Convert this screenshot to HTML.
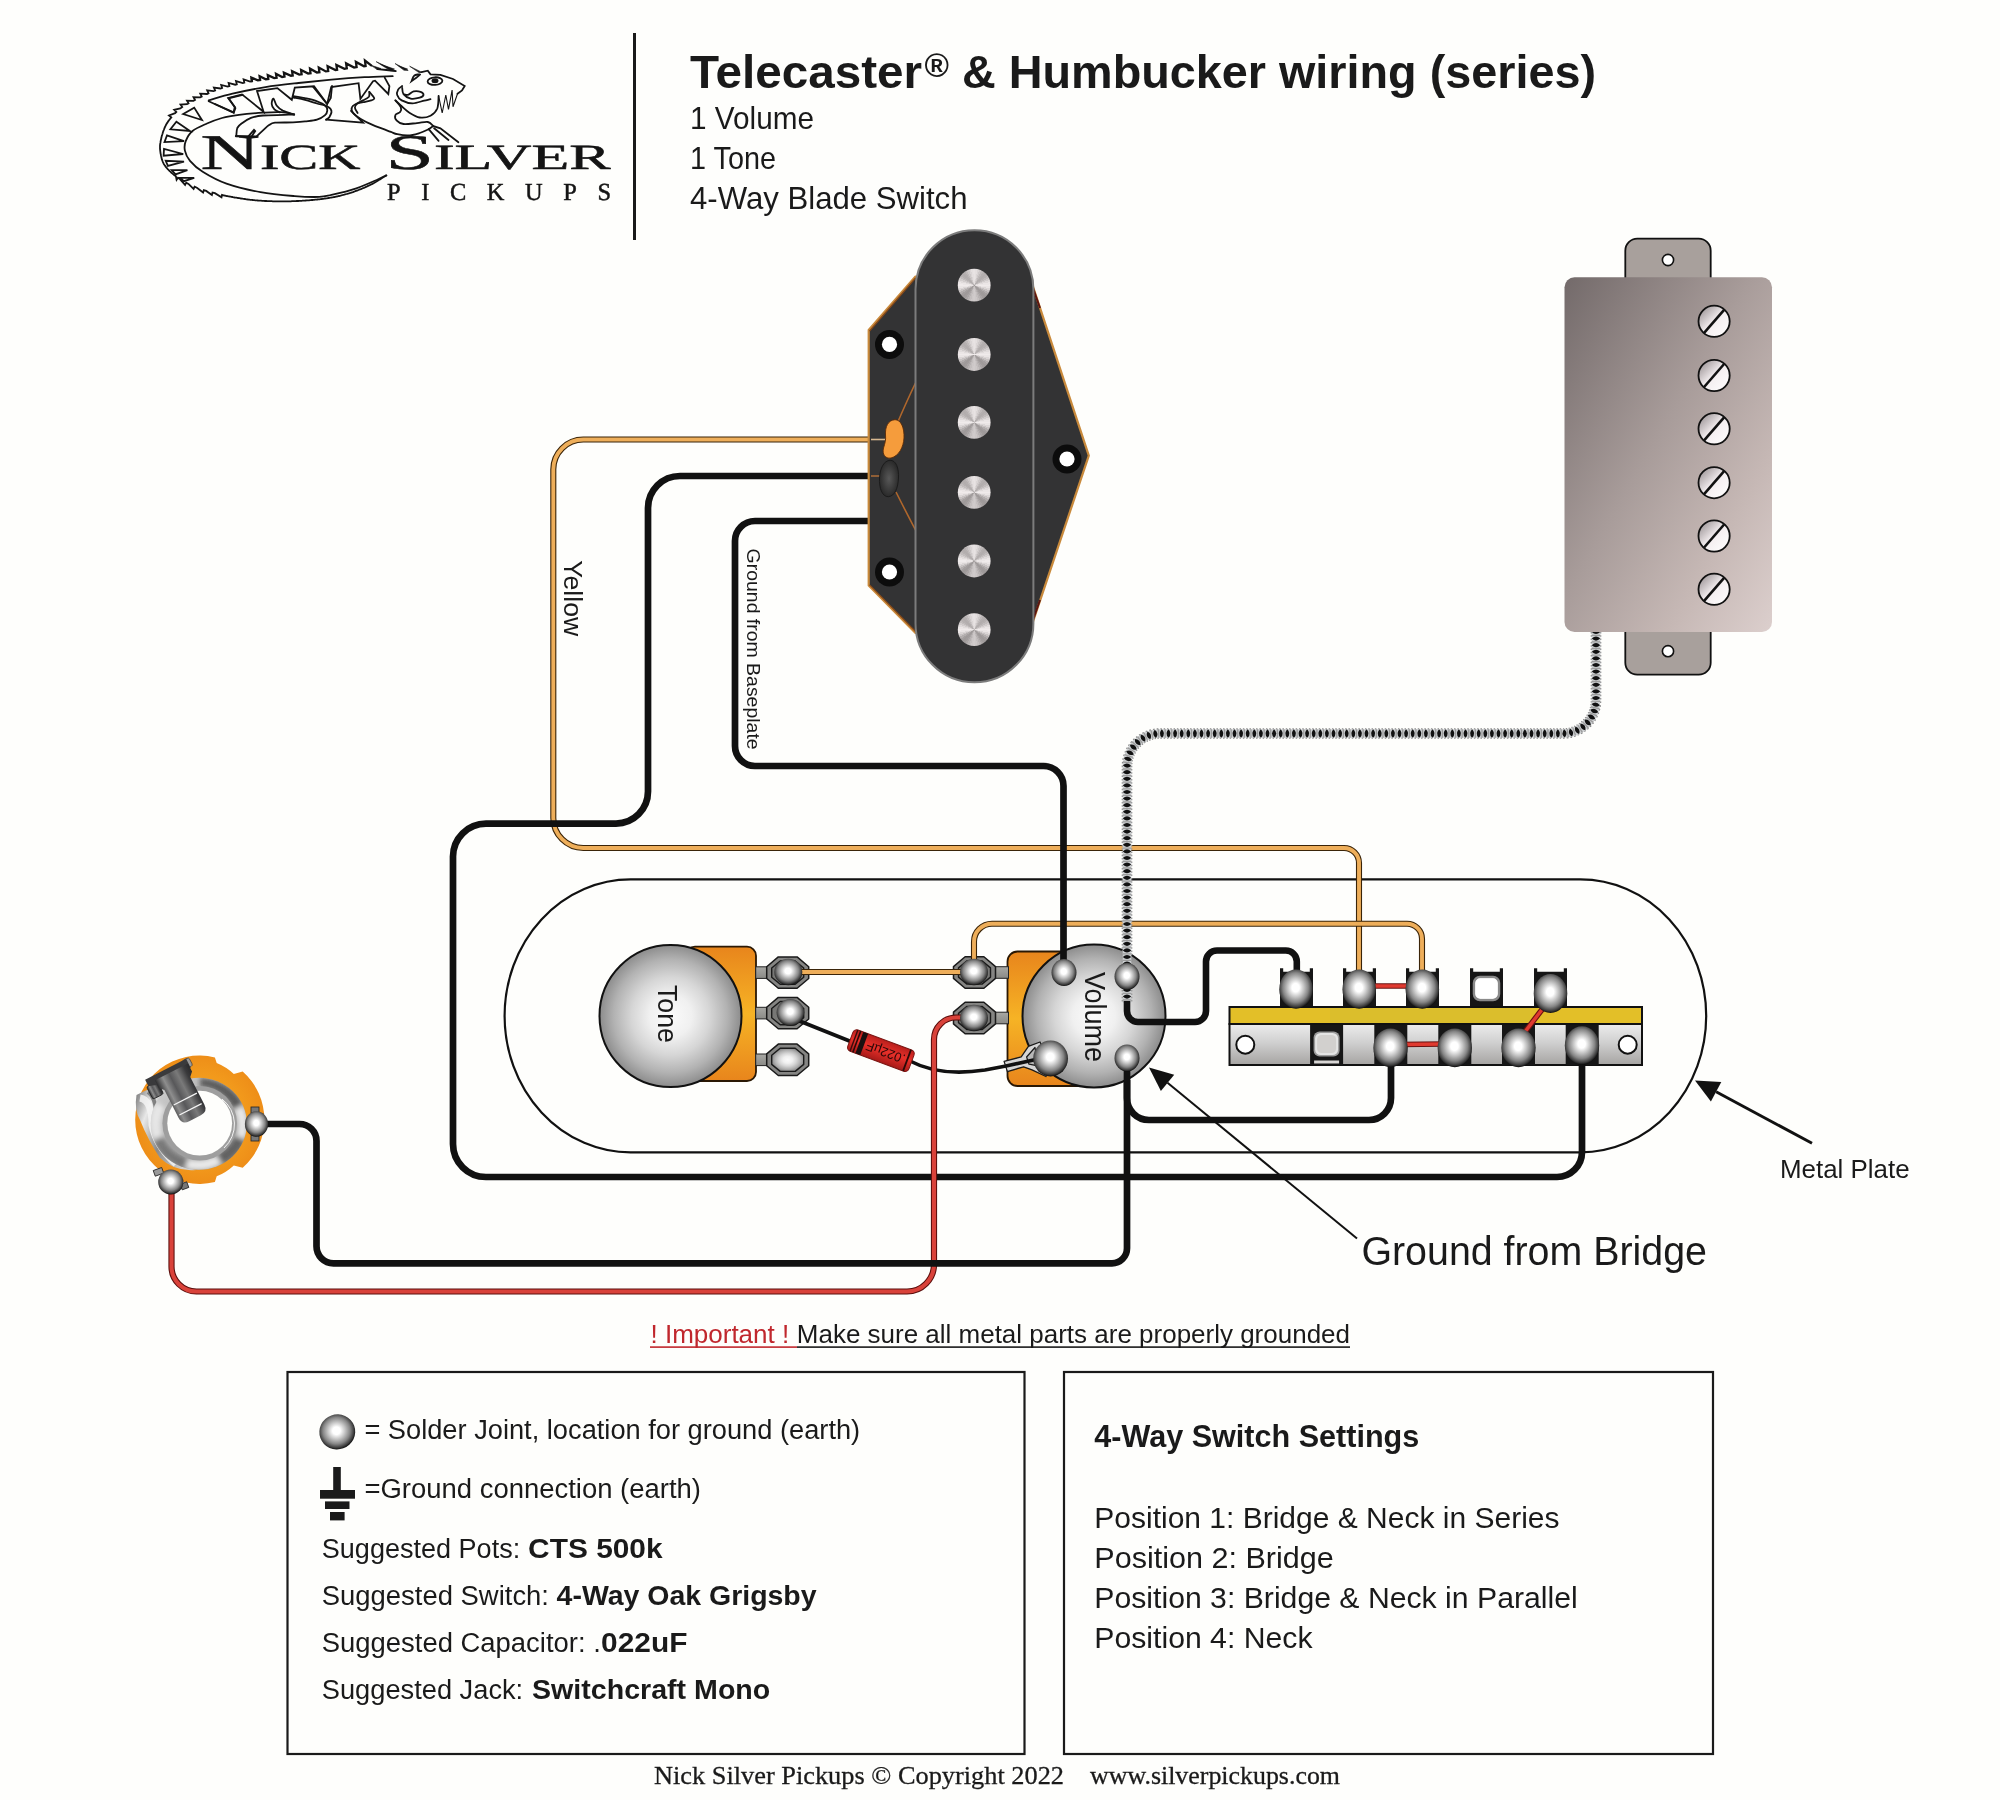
<!DOCTYPE html>
<html lang="en"><head><meta charset="utf-8"><title>Telecaster &amp; Humbucker wiring (series)</title>
<style>
html,body{margin:0;padding:0;background:#fefefc;}
body{width:2000px;height:1800px;overflow:hidden;}
svg{display:block;will-change:transform;}
text{font-family:"Liberation Sans",sans-serif;fill:#1a1a1a;}
.serif{font-family:"Liberation Serif",serif;}
.ft{stroke:#1a1a1a;stroke-width:.3px;}
.b{font-weight:bold;}
</style></head><body>
<svg width="2000" height="1800" viewBox="0 0 2000 1800">
<rect width="2000" height="1800" fill="#fefefc"/>
<!-- defs.svg -->
<defs>
<radialGradient id="blob" cx="0.49" cy="0.46" r="0.54">
<stop offset="0" stop-color="#ffffff"/><stop offset="0.2" stop-color="#ffffff"/><stop offset="0.45" stop-color="#c4c4c4"/><stop offset="0.7" stop-color="#868686"/><stop offset="0.9" stop-color="#3c3c3c"/><stop offset="1" stop-color="#0c0c0c"/>
</radialGradient>
<radialGradient id="knob" cx="0.5" cy="0.5" r="0.5">
<stop offset="0" stop-color="#fbfbfb"/><stop offset="0.3" stop-color="#f0f0f0"/><stop offset="0.55" stop-color="#d6d6d6"/><stop offset="0.8" stop-color="#b2b2b2"/><stop offset="1" stop-color="#8c8c8c"/>
</radialGradient>
<radialGradient id="pole" cx="0.5" cy="0.5" r="0.5">
<stop offset="0" stop-color="#ffffff"/><stop offset="0.5" stop-color="#d4d4d4"/><stop offset="0.85" stop-color="#b0b0b0"/><stop offset="1" stop-color="#8c8c8c"/>
</radialGradient>
<linearGradient id="orangeH" x1="0" y1="0" x2="0" y2="1">
<stop offset="0" stop-color="#e8851c"/><stop offset="0.5" stop-color="#f6b325"/><stop offset="1" stop-color="#e8851c"/>
</linearGradient>
<linearGradient id="hbcover" x1="0" y1="0" x2="1" y2="1">
<stop offset="0" stop-color="#736a6a"/><stop offset="0.45" stop-color="#a89c9a"/><stop offset="0.75" stop-color="#c6b8b5"/><stop offset="1" stop-color="#dccfcd"/>
</linearGradient>
<linearGradient id="screw" x1="0" y1="0" x2="1" y2="1">
<stop offset="0" stop-color="#8a8284"/><stop offset="0.5" stop-color="#f4eef0"/><stop offset="1" stop-color="#ffffff"/>
</linearGradient>
<linearGradient id="swbody" x1="0" y1="0" x2="0" y2="1">
<stop offset="0" stop-color="#ececec"/><stop offset="0.45" stop-color="#d0d0d0"/><stop offset="1" stop-color="#a6a4a2"/>
</linearGradient>
<linearGradient id="capred" x1="0" y1="0" x2="0" y2="1">
<stop offset="0" stop-color="#b81f1c"/><stop offset="0.45" stop-color="#e8302a"/><stop offset="1" stop-color="#a81a18"/>
</linearGradient>
<radialGradient id="orangeR" cx="0.5" cy="0.5" r="0.5">
<stop offset="0" stop-color="#f5a21e"/><stop offset="0.7" stop-color="#f29a1c"/><stop offset="1" stop-color="#ee8e18"/>
</radialGradient>
<linearGradient id="steel" x1="0" y1="0" x2="1" y2="1">
<stop offset="0" stop-color="#f4f4f4"/><stop offset="0.25" stop-color="#8a8a8a"/><stop offset="0.5" stop-color="#e8e8e8"/><stop offset="0.75" stop-color="#6e6e6e"/><stop offset="1" stop-color="#d8d8d8"/>
</linearGradient>
<linearGradient id="plug" x1="0" y1="0" x2="1" y2="0">
<stop offset="0" stop-color="#2e2e30"/><stop offset="0.22" stop-color="#8e8e8e"/><stop offset="0.42" stop-color="#58585a"/><stop offset="0.62" stop-color="#7a7a7a"/><stop offset="0.85" stop-color="#3a3a3c"/><stop offset="1" stop-color="#2a2a2c"/>
</linearGradient>
<linearGradient id="lugg" x1="0" y1="0" x2="0" y2="1">
<stop offset="0" stop-color="#a8a8a4"/><stop offset="1" stop-color="#8a8a86"/>
</linearGradient>
<marker id="lens" markerWidth="10" markerHeight="12" refX="5" refY="6" orient="auto" markerUnits="userSpaceOnUse"><path d="M5 1.8 Q9.2 6 5 10.2 Q0.8 6 5 1.8 Z" fill="#111"/></marker>
<linearGradient id="steel2" x1="0" y1="0" x2="1" y2="0.6">
<stop offset="0" stop-color="#5a5a5a"/><stop offset="0.3" stop-color="#e8e8e8"/><stop offset="0.6" stop-color="#8a8a8a"/><stop offset="1" stop-color="#d0d0d0"/>
</linearGradient>
<linearGradient id="steel3" x1="0" y1="0" x2="1" y2="1">
<stop offset="0" stop-color="#d8d8d8"/><stop offset="0.5" stop-color="#a8a8a8"/><stop offset="1" stop-color="#8a8a8a"/>
</linearGradient>
<filter id="blur3" x="-20%" y="-20%" width="140%" height="140%"><feGaussianBlur stdDeviation="2.4"/></filter>
<clipPath id="ringclip"><ellipse cx="198.8" cy="1123.7" rx="48" ry="46"/></clipPath>
<radialGradient id="beanblk" cx="0.5" cy="0.5" r="0.55"><stop offset="0" stop-color="#585858"/><stop offset="1" stop-color="#262626"/></radialGradient>
</defs>

<!-- plate.svg -->
<rect x="504.6" y="879.4" width="1201.6" height="273" rx="126" ry="136.5" fill="none" stroke="#111" stroke-width="2.2"/>

<!-- pots.svg -->
<rect x="686" y="946.7" width="70" height="134.3" rx="9" fill="url(#orangeH)" stroke="#2a1804" stroke-width="1.8"/>
<rect x="755.7" y="966.8" width="12" height="11.6" fill="url(#lugg)" stroke="#222" stroke-width="1"/>
<polygon points="778.3,956.9 797.1,956.9 808.7,966.7 808.7,978.5 797.1,988.3 778.3,988.3 766.7,978.5 766.7,966.7" fill="#858583" stroke="#1a1a1a" stroke-width="1.5" stroke-linejoin="round"/>
<polygon points="780.2,961.0 795.2,961.0 803.7,968.0 803.7,977.2 795.2,984.2 780.2,984.2 771.7,977.2 771.7,968.0" fill="#777775" stroke="#1a1a1a" stroke-width="1.4" stroke-linejoin="round"/>
<rect x="755.7" y="1007.3" width="12" height="11.6" fill="url(#lugg)" stroke="#222" stroke-width="1"/>
<polygon points="778.3,997.4 797.1,997.4 808.7,1007.2 808.7,1019.0 797.1,1028.8 778.3,1028.8 766.7,1019.0 766.7,1007.2" fill="#858583" stroke="#1a1a1a" stroke-width="1.5" stroke-linejoin="round"/>
<polygon points="780.2,1001.5 795.2,1001.5 803.7,1008.5 803.7,1017.7 795.2,1024.7 780.2,1024.7 771.7,1017.7 771.7,1008.5" fill="#777775" stroke="#1a1a1a" stroke-width="1.4" stroke-linejoin="round"/>
<rect x="755.7" y="1054.0" width="12" height="11.6" fill="url(#lugg)" stroke="#222" stroke-width="1"/>
<polygon points="778.3,1044.1 797.1,1044.1 808.7,1053.9 808.7,1065.7 797.1,1075.5 778.3,1075.5 766.7,1065.7 766.7,1053.9" fill="#858583" stroke="#1a1a1a" stroke-width="1.5" stroke-linejoin="round"/>
<polygon points="780.2,1048.2 795.2,1048.2 803.7,1055.2 803.7,1064.4 795.2,1071.4 780.2,1071.4 771.7,1064.4 771.7,1055.2" fill="url(#knob)" stroke="#1a1a1a" stroke-width="1.4" stroke-linejoin="round"/>
<circle cx="670.5" cy="1016" r="71" fill="url(#knob)" stroke="#111" stroke-width="2"/>
<rect x="1007.5" y="951.5" width="80" height="134.5" rx="10" fill="url(#orangeH)" stroke="#2a1804" stroke-width="1.8"/>
<rect x="994.5" y="966.7" width="14" height="11.6" fill="url(#lugg)" stroke="#222" stroke-width="1"/>
<polygon points="965.1,956.8 983.9,956.8 995.5,966.6 995.5,978.4 983.9,988.2 965.1,988.2 953.5,978.4 953.5,966.6" fill="#858583" stroke="#1a1a1a" stroke-width="1.5" stroke-linejoin="round"/>
<polygon points="967.0,960.9 982.0,960.9 990.5,967.9 990.5,977.1 982.0,984.1 967.0,984.1 958.5,977.1 958.5,967.9" fill="#777775" stroke="#1a1a1a" stroke-width="1.4" stroke-linejoin="round"/>
<rect x="994.5" y="1012.2" width="14" height="11.6" fill="url(#lugg)" stroke="#222" stroke-width="1"/>
<polygon points="965.1,1002.3 983.9,1002.3 995.5,1012.1 995.5,1023.9 983.9,1033.7 965.1,1033.7 953.5,1023.9 953.5,1012.1" fill="#858583" stroke="#1a1a1a" stroke-width="1.5" stroke-linejoin="round"/>
<polygon points="967.0,1006.4 982.0,1006.4 990.5,1013.4 990.5,1022.6 982.0,1029.6 967.0,1029.6 958.5,1022.6 958.5,1013.4" fill="#777775" stroke="#1a1a1a" stroke-width="1.4" stroke-linejoin="round"/>
<circle cx="1094" cy="1016" r="71.5" fill="url(#knob)" stroke="#111" stroke-width="2"/>
<path d="M1004.1 1061.4 L1021.2 1056.9 L1028.4 1046.4 L1040 1042 L1048 1060 L1046 1076.5 L1032 1069.8 L1023.6 1066.8 L1007.4 1071.6 Z" fill="#d6d6d6" stroke="#1a1a1a" stroke-width="1.3" stroke-linejoin="round"/>
<path d="M1026.6 1057 L1035 1047.5 L1038 1065.8 L1029 1064.2 Z" fill="#b8b8b8" stroke="#1a1a1a" stroke-width="1.2" stroke-linejoin="round"/>

<!-- switch.svg -->
<path d="M1280.0 1008 L1280.0 968.2 L1283.2 968.2 L1283.2 971.8 L1309.8 971.8 L1309.8 968.2 L1313.0 968.2 L1313.0 1008 Z" fill="#161616"/>
<path d="M1343.0 1008 L1343.0 968.2 L1346.2 968.2 L1346.2 971.8 L1372.8 971.8 L1372.8 968.2 L1376.0 968.2 L1376.0 1008 Z" fill="#161616"/>
<path d="M1406.0 1008 L1406.0 968.2 L1409.2 968.2 L1409.2 971.8 L1435.8 971.8 L1435.8 968.2 L1439.0 968.2 L1439.0 1008 Z" fill="#161616"/>
<path d="M1470.0 1008 L1470.0 968.2 L1473.2 968.2 L1473.2 971.8 L1499.8 971.8 L1499.8 968.2 L1503.0 968.2 L1503.0 1008 Z" fill="#161616"/>
<path d="M1534.0 1008 L1534.0 968.2 L1537.2 968.2 L1537.2 971.8 L1563.8 971.8 L1563.8 968.2 L1567.0 968.2 L1567.0 1008 Z" fill="#161616"/>
<rect x="1474.0" y="977" width="25" height="23" rx="6" fill="#fff" stroke="#8a8a8a" stroke-width="2.5"/>
<rect x="1475.5" y="978.5" width="22" height="20" rx="5" fill="#fff"/>
<rect x="1229.5" y="1024" width="412.5" height="41" fill="url(#swbody)" stroke="#111" stroke-width="2"/>
<rect x="1310.1" y="1024" width="33" height="41" fill="#161616"/>
<rect x="1374.3" y="1024" width="33" height="41" fill="#161616"/>
<rect x="1438.3" y="1024" width="33" height="41" fill="#161616"/>
<rect x="1502.0" y="1024" width="33" height="41" fill="#161616"/>
<rect x="1565.7" y="1024" width="33" height="41" fill="#161616"/>
<rect x="1313.6" y="1031.5" width="26" height="25" rx="6" fill="#9a9a9a"/>
<rect x="1315.1" y="1033" width="23" height="22" rx="5.5" fill="#e4e4e4"/>
<rect x="1317.1" y="1035" width="19" height="18" rx="4.5" fill="#d2d0ce"/>
<rect x="1314.1" y="1060.5" width="25" height="3" fill="#d8d6d4"/>
<rect x="1229.5" y="1007" width="412.5" height="17" fill="#e3bf28" stroke="#111" stroke-width="2"/>
<rect x="1330" y="1008" width="200" height="15" fill="#d6be2e" opacity=".6"/>
<circle cx="1245.3" cy="1044.7" r="9" fill="#fff" stroke="#111" stroke-width="2"/>
<circle cx="1627.7" cy="1044.7" r="9" fill="#fff" stroke="#111" stroke-width="2"/>
<path d="M1370.0 986.0 L1412.0 986.0" stroke="#6a1210" stroke-width="5.6"/><path d="M1370.0 986.0 L1412.0 986.0" stroke="#e03a30" stroke-width="3.4"/>
<path d="M1400.0 1044.5 L1445.0 1044.0" stroke="#6a1210" stroke-width="5.6"/><path d="M1400.0 1044.5 L1445.0 1044.0" stroke="#e03a30" stroke-width="3.4"/>
<path d="M1547.0 1003.0 L1521.0 1037.0" stroke="#6a1210" stroke-width="5.6"/><path d="M1547.0 1003.0 L1521.0 1037.0" stroke="#e03a30" stroke-width="3.4"/>

<!-- cap.svg -->
<path d="M797 1020 L852 1042" stroke="#111" stroke-width="4" fill="none"/>
<path d="M910 1061 Q940 1077 985 1070 L1006 1066 L1038 1059" stroke="#111" stroke-width="3.6" fill="none"/>
<g transform="translate(880.9 1050.6) rotate(20.4)"><rect x="-32.6" y="-11.3" width="65.2" height="22.6" rx="4" fill="url(#capred)" stroke="#7a1512" stroke-width="1"/><rect x="-29.5" y="-11.3" width="1.4" height="22.6" fill="#3a0d0b"/><rect x="-26.5" y="-11.3" width="1.6" height="22.6" fill="#2a0a08"/><rect x="-23" y="-11.3" width="5.2" height="22.6" fill="#1a1010"/><rect x="27" y="-11.3" width="1.8" height="22.6" fill="#2a0a08"/><text x="-5" y="4.4" font-size="13" text-anchor="middle" transform="rotate(180)" fill="#2a0808" style="fill:#2a0808">.022µF</text></g>

<!-- wires.svg -->
<path d="M885.0 439.5 L583.3 439.5 A30.0 30.0 0 0 0 553.3 469.5 L553.3 818.0 A30.0 30.0 0 0 0 583.3 848.0 L1344.0 848.0 A15.0 15.0 0 0 1 1359.0 863.0 L1359.0 985.0" fill="none" stroke="#3a2408" stroke-width="6.1"/>
<path d="M885.0 439.5 L583.3 439.5 A30.0 30.0 0 0 0 553.3 469.5 L553.3 818.0 A30.0 30.0 0 0 0 583.3 848.0 L1344.0 848.0 A15.0 15.0 0 0 1 1359.0 863.0 L1359.0 985.0" fill="none" stroke="#eeae5a" stroke-width="3.9"/>
<path d="M974.0 968.0 L974.0 941.7 A18.0 18.0 0 0 1 992.0 923.7 L1407.0 923.7 A15.0 15.0 0 0 1 1422.0 938.7 L1422.0 985.0" fill="none" stroke="#3a2408" stroke-width="6.1"/>
<path d="M974.0 968.0 L974.0 941.7 A18.0 18.0 0 0 1 992.0 923.7 L1407.0 923.7 A15.0 15.0 0 0 1 1422.0 938.7 L1422.0 985.0" fill="none" stroke="#eeae5a" stroke-width="3.9"/>
<path d="M795.0 972.0 L968.0 972.0" fill="none" stroke="#3a2408" stroke-width="6.1"/>
<path d="M795.0 972.0 L968.0 972.0" fill="none" stroke="#eeae5a" stroke-width="3.9"/>
<path d="M880.0 476.0 L680.0 476.0 A32.0 32.0 0 0 0 648.0 508.0 L648.0 791.6 A32.0 32.0 0 0 1 616.0 823.6 L486.0 823.6 A33.0 33.0 0 0 0 453.0 856.6 L453.0 1144.0 A33.0 33.0 0 0 0 486.0 1177.0 L1557.0 1177.0 A25.0 25.0 0 0 0 1582.0 1152.0 L1582.0 1050.0" fill="none" stroke="#111" stroke-width="6.7" stroke-linejoin="round"/>
<path d="M872.0 521.0 L755.0 521.0 A20.0 20.0 0 0 0 735.0 541.0 L735.0 746.0 A20.0 20.0 0 0 0 755.0 766.0 L1043.5 766.0 A20.0 20.0 0 0 1 1063.5 786.0 L1063.5 968.0" fill="none" stroke="#111" stroke-width="6.7" stroke-linejoin="round"/>
<path d="M968.0 1017.5 L956.0 1017.5 A22.0 22.0 0 0 0 934.0 1039.5 L934.0 1264.5 A27.0 27.0 0 0 1 907.0 1291.5 L196.5 1291.5 A25.0 25.0 0 0 1 171.5 1266.5 L171.5 1190.0" fill="none" stroke="#5a0e0c" stroke-width="6.2"/>
<path d="M968.0 1017.5 L956.0 1017.5 A22.0 22.0 0 0 0 934.0 1039.5 L934.0 1264.5 A27.0 27.0 0 0 1 907.0 1291.5 L196.5 1291.5 A25.0 25.0 0 0 1 171.5 1266.5 L171.5 1190.0" fill="none" stroke="#d9423a" stroke-width="4.1"/>
<path d="M1127.0 1062.0 L1127.0 1248.3 A15.0 15.0 0 0 1 1112.0 1263.3 L333.5 1263.3 A17.0 17.0 0 0 1 316.5 1246.3 L316.5 1141.0 A17.0 17.0 0 0 0 299.5 1124.0 L262.0 1124.0" fill="none" stroke="#111" stroke-width="6.7" stroke-linejoin="round"/>
<path d="M1391.0 1055.0 L1391.0 1098.0 A22.0 22.0 0 0 1 1369.0 1120.0 L1149.0 1120.0 A22.0 22.0 0 0 1 1127.0 1098.0 L1127.0 1080.0" fill="none" stroke="#111" stroke-width="6.7" stroke-linejoin="round"/>
<path d="M1596.0 632.0 L1596.0 700.5 A33.0 33.0 0 0 1 1563.0 733.5 L1160.0 733.5 A33.0 33.0 0 0 0 1127.0 766.5 L1127.0 1003.0" fill="none" stroke="#8a8a8a" stroke-width="10.6" stroke-dasharray="1.5 1.8"/>
<path d="M1596.0 632.0 L1596.0 700.5 A33.0 33.0 0 0 1 1563.0 733.5 L1160.0 733.5 A33.0 33.0 0 0 0 1127.0 766.5 L1127.0 1003.0" fill="none" stroke="#cdd0d2" stroke-width="8.6"/>
<path d="M1596.0 632.0 L1596.0 700.5 A33.0 33.0 0 0 1 1563.0 733.5 L1160.0 733.5 A33.0 33.0 0 0 0 1127.0 766.5 L1127.0 1003.0" fill="none" stroke="#9c9c9c" stroke-width="8.6" stroke-dasharray="1.3 5.3" stroke-dashoffset="-2.65"/>
<polyline points="1596.0,632.0 1596.0,638.6 1596.0,645.2 1596.0,651.8 1596.0,658.4 1596.0,665.0 1596.0,671.6 1596.0,678.2 1596.0,684.8 1596.0,691.4 1596.0,698.0 1595.7,704.6 1594.3,711.0 1591.5,717.0 1587.7,722.4 1582.9,726.8 1577.2,730.2 1571.0,732.5 1564.5,733.4 1557.9,733.5 1551.3,733.5 1544.7,733.5 1538.1,733.5 1531.5,733.5 1524.9,733.5 1518.3,733.5 1511.7,733.5 1505.1,733.5 1498.5,733.5 1491.9,733.5 1485.3,733.5 1478.7,733.5 1472.1,733.5 1465.5,733.5 1458.9,733.5 1452.3,733.5 1445.7,733.5 1439.1,733.5 1432.5,733.5 1425.9,733.5 1419.3,733.5 1412.7,733.5 1406.1,733.5 1399.5,733.5 1392.9,733.5 1386.3,733.5 1379.7,733.5 1373.1,733.5 1366.5,733.5 1359.9,733.5 1353.3,733.5 1346.7,733.5 1340.1,733.5 1333.5,733.5 1326.9,733.5 1320.3,733.5 1313.7,733.5 1307.1,733.5 1300.5,733.5 1293.9,733.5 1287.3,733.5 1280.7,733.5 1274.1,733.5 1267.5,733.5 1260.9,733.5 1254.3,733.5 1247.7,733.5 1241.1,733.5 1234.5,733.5 1227.9,733.5 1221.3,733.5 1214.7,733.5 1208.1,733.5 1201.5,733.5 1194.9,733.5 1188.3,733.5 1181.7,733.5 1175.1,733.5 1168.5,733.5 1161.9,733.5 1155.3,733.8 1148.9,735.4 1143.0,738.2 1137.7,742.2 1133.3,747.1 1130.0,752.8 1127.9,759.0 1127.0,765.6 1127.0,772.2 1127.0,778.8 1127.0,785.4 1127.0,792.0 1127.0,798.6 1127.0,805.2 1127.0,811.8 1127.0,818.4 1127.0,825.0 1127.0,831.6 1127.0,838.2 1127.0,844.8 1127.0,851.4 1127.0,858.0 1127.0,864.6 1127.0,871.2 1127.0,877.8 1127.0,884.4 1127.0,891.0 1127.0,897.6 1127.0,904.2 1127.0,910.8 1127.0,917.4 1127.0,924.0 1127.0,930.6 1127.0,937.2 1127.0,943.8 1127.0,950.4 1127.0,957.0 1127.0,963.6 1127.0,970.2 1127.0,976.8 1127.0,983.4 1127.0,990.0 1127.0,996.6" fill="none" stroke="none" marker-mid="url(#lens)" marker-start="url(#lens)" marker-end="url(#lens)"/>
<path d="M1127.0 1001.0 L1127.0 1011.0 A11.0 11.0 0 0 0 1138.0 1022.0 L1195.0 1022.0 A11.0 11.0 0 0 0 1206.0 1011.0 L1206.0 961.5 A11.0 11.0 0 0 1 1217.0 950.5 L1285.8 950.5 A11.0 11.0 0 0 1 1296.8 961.5 L1296.8 980.0" fill="none" stroke="#111" stroke-width="6.6" stroke-linejoin="round"/>

<!-- pickup.svg -->
<path d="M868.7 330 L915.5 276.5 L1033 286.6 L1088.8 455.6 L1033 621.7 L915.5 633 L868.7 585.6 Z" fill="#333334" stroke="#c98a3c" stroke-width="2.2" stroke-linejoin="round"/>
<path d="M869.5 331 L915.5 278 M869.5 584.8 L915.5 631.5" stroke="#8a4a18" stroke-width="1.2" fill="none"/>
<path d="M1033 288 L1040 308 M1033 620 L1040 600" stroke="#5a1512" stroke-width="2" fill="none"/>
<path d="M915.5 383 Q905 405 897 424" stroke="#b0672c" stroke-width="1.6" fill="none"/>
<path d="M915.5 530 Q905 510 896 492" stroke="#b0672c" stroke-width="1.6" fill="none"/>
<path d="M871 439.5 L885 439.5" stroke="#d8b890" stroke-width="1.6" fill="none"/>
<path d="M871 476 L880 476" stroke="#a86a38" stroke-width="1.6" fill="none"/>
<circle cx="889.5" cy="344.4" r="14.5" fill="#0c0c0c"/><circle cx="889.5" cy="344.4" r="7.6" fill="#fff"/>
<circle cx="889.5" cy="572" r="14.5" fill="#0c0c0c"/><circle cx="889.5" cy="572" r="7.6" fill="#fff"/>
<circle cx="1067" cy="459" r="14.5" fill="#0c0c0c"/><circle cx="1067" cy="459" r="7.6" fill="#fff"/>
<path d="M895 419.7 C901 419.5 904.5 428 904 438 C903.5 447 899 456 891 458 C885 459 882 454 883.5 448 C885 443 886 440 885.5 435 C885 427 888 420 895 419.7 Z" fill="#f59c3c" stroke="#5a2a08" stroke-width=".9"/>
<path d="M890 460.3 C896 460 899 468 898.5 478 C898 488 895 496 888.5 496.7 C882 497 879 488 879.5 478 C880 468 884 460.6 890 460.3 Z" fill="url(#beanblk)" stroke="#1a1a1a" stroke-width=".9"/>
<rect x="915.5" y="230.3" width="117.9" height="452" rx="58.9" ry="58.9" fill="#333334" stroke="#7c7c7c" stroke-width="2"/>
<defs><clipPath id="poleclip"><circle r="16.4"/></clipPath><filter id="blur06" x="-10%" y="-10%" width="120%" height="120%"><feGaussianBlur stdDeviation="0.7"/></filter></defs>
<g transform="translate(974.2 285.2)"><g clip-path="url(#poleclip)"><g filter="url(#blur06)" shape-rendering="crispEdges"><path d="M0 0L19.0 -1.2L18.9 1.6Z" fill="#f0ebeb"/><path d="M0 0L19.0 1.2L18.6 4.1Z" fill="#eae5e5"/><path d="M0 0L18.6 3.7L17.9 6.5Z" fill="#dbd6d6"/><path d="M0 0L18.0 6.1L16.9 8.7Z" fill="#c7c2c2"/><path d="M0 0L17.0 8.4L15.6 10.9Z" fill="#b2adad"/><path d="M0 0L15.8 10.6L14.0 12.8Z" fill="#a39e9e"/><path d="M0 0L14.3 12.5L12.2 14.5Z" fill="#9e9999"/><path d="M0 0L12.5 14.3L10.2 16.0Z" fill="#a19c9c"/><path d="M0 0L10.6 15.8L8.1 17.2Z" fill="#aaa5a5"/><path d="M0 0L8.4 17.0L5.7 18.1Z" fill="#b7b2b2"/><path d="M0 0L6.1 18.0L3.3 18.7Z" fill="#c3bebe"/><path d="M0 0L3.7 18.6L0.9 19.0Z" fill="#ccc7c7"/><path d="M0 0L1.2 19.0L-1.6 18.9Z" fill="#d0cbcb"/><path d="M0 0L-1.2 19.0L-4.1 18.6Z" fill="#ccc7c7"/><path d="M0 0L-3.7 18.6L-6.5 17.9Z" fill="#c3bebe"/><path d="M0 0L-6.1 18.0L-8.7 16.9Z" fill="#b7b2b2"/><path d="M0 0L-8.4 17.0L-10.9 15.6Z" fill="#aaa5a5"/><path d="M0 0L-10.6 15.8L-12.8 14.0Z" fill="#a19c9c"/><path d="M0 0L-12.5 14.3L-14.5 12.2Z" fill="#9e9999"/><path d="M0 0L-14.3 12.5L-16.0 10.2Z" fill="#a39e9e"/><path d="M0 0L-15.8 10.6L-17.2 8.1Z" fill="#b2adad"/><path d="M0 0L-17.0 8.4L-18.1 5.7Z" fill="#c7c2c2"/><path d="M0 0L-18.0 6.1L-18.7 3.3Z" fill="#dbd6d6"/><path d="M0 0L-18.6 3.7L-19.0 0.9Z" fill="#eae5e5"/><path d="M0 0L-19.0 1.2L-18.9 -1.6Z" fill="#f0ebeb"/><path d="M0 0L-19.0 -1.2L-18.6 -4.1Z" fill="#ebe6e6"/><path d="M0 0L-18.6 -3.7L-17.9 -6.5Z" fill="#e0dbdb"/><path d="M0 0L-18.0 -6.1L-16.9 -8.7Z" fill="#d1cccc"/><path d="M0 0L-17.0 -8.4L-15.6 -10.9Z" fill="#c1bcbc"/><path d="M0 0L-15.8 -10.6L-14.0 -12.8Z" fill="#b6b1b1"/><path d="M0 0L-14.3 -12.5L-12.2 -14.5Z" fill="#b2adad"/><path d="M0 0L-12.5 -14.3L-10.2 -16.0Z" fill="#b5b0b0"/><path d="M0 0L-10.6 -15.8L-8.1 -17.2Z" fill="#bfbaba"/><path d="M0 0L-8.4 -17.0L-5.7 -18.1Z" fill="#cdc8c8"/><path d="M0 0L-6.1 -18.0L-3.3 -18.7Z" fill="#dad5d5"/><path d="M0 0L-3.7 -18.6L-0.9 -19.0Z" fill="#e4dfdf"/><path d="M0 0L-1.2 -19.0L1.6 -18.9Z" fill="#e8e3e3"/><path d="M0 0L1.2 -19.0L4.1 -18.6Z" fill="#e4dfdf"/><path d="M0 0L3.7 -18.6L6.5 -17.9Z" fill="#dad5d5"/><path d="M0 0L6.1 -18.0L8.7 -16.9Z" fill="#cdc8c8"/><path d="M0 0L8.4 -17.0L10.9 -15.6Z" fill="#bfbaba"/><path d="M0 0L10.6 -15.8L12.8 -14.0Z" fill="#b5b0b0"/><path d="M0 0L12.5 -14.3L14.5 -12.2Z" fill="#b2adad"/><path d="M0 0L14.3 -12.5L16.0 -10.2Z" fill="#b6b1b1"/><path d="M0 0L15.8 -10.6L17.2 -8.1Z" fill="#c1bcbc"/><path d="M0 0L17.0 -8.4L18.1 -5.7Z" fill="#d1cccc"/><path d="M0 0L18.0 -6.1L18.7 -3.3Z" fill="#e0dbdb"/><path d="M0 0L18.6 -3.7L19.0 -0.9Z" fill="#ebe6e6"/></g></g></g>
<g transform="translate(974.2 354.5)"><g clip-path="url(#poleclip)"><g filter="url(#blur06)" shape-rendering="crispEdges"><path d="M0 0L19.0 -1.2L18.9 1.6Z" fill="#f0ebeb"/><path d="M0 0L19.0 1.2L18.6 4.1Z" fill="#eae5e5"/><path d="M0 0L18.6 3.7L17.9 6.5Z" fill="#dbd6d6"/><path d="M0 0L18.0 6.1L16.9 8.7Z" fill="#c7c2c2"/><path d="M0 0L17.0 8.4L15.6 10.9Z" fill="#b2adad"/><path d="M0 0L15.8 10.6L14.0 12.8Z" fill="#a39e9e"/><path d="M0 0L14.3 12.5L12.2 14.5Z" fill="#9e9999"/><path d="M0 0L12.5 14.3L10.2 16.0Z" fill="#a19c9c"/><path d="M0 0L10.6 15.8L8.1 17.2Z" fill="#aaa5a5"/><path d="M0 0L8.4 17.0L5.7 18.1Z" fill="#b7b2b2"/><path d="M0 0L6.1 18.0L3.3 18.7Z" fill="#c3bebe"/><path d="M0 0L3.7 18.6L0.9 19.0Z" fill="#ccc7c7"/><path d="M0 0L1.2 19.0L-1.6 18.9Z" fill="#d0cbcb"/><path d="M0 0L-1.2 19.0L-4.1 18.6Z" fill="#ccc7c7"/><path d="M0 0L-3.7 18.6L-6.5 17.9Z" fill="#c3bebe"/><path d="M0 0L-6.1 18.0L-8.7 16.9Z" fill="#b7b2b2"/><path d="M0 0L-8.4 17.0L-10.9 15.6Z" fill="#aaa5a5"/><path d="M0 0L-10.6 15.8L-12.8 14.0Z" fill="#a19c9c"/><path d="M0 0L-12.5 14.3L-14.5 12.2Z" fill="#9e9999"/><path d="M0 0L-14.3 12.5L-16.0 10.2Z" fill="#a39e9e"/><path d="M0 0L-15.8 10.6L-17.2 8.1Z" fill="#b2adad"/><path d="M0 0L-17.0 8.4L-18.1 5.7Z" fill="#c7c2c2"/><path d="M0 0L-18.0 6.1L-18.7 3.3Z" fill="#dbd6d6"/><path d="M0 0L-18.6 3.7L-19.0 0.9Z" fill="#eae5e5"/><path d="M0 0L-19.0 1.2L-18.9 -1.6Z" fill="#f0ebeb"/><path d="M0 0L-19.0 -1.2L-18.6 -4.1Z" fill="#ebe6e6"/><path d="M0 0L-18.6 -3.7L-17.9 -6.5Z" fill="#e0dbdb"/><path d="M0 0L-18.0 -6.1L-16.9 -8.7Z" fill="#d1cccc"/><path d="M0 0L-17.0 -8.4L-15.6 -10.9Z" fill="#c1bcbc"/><path d="M0 0L-15.8 -10.6L-14.0 -12.8Z" fill="#b6b1b1"/><path d="M0 0L-14.3 -12.5L-12.2 -14.5Z" fill="#b2adad"/><path d="M0 0L-12.5 -14.3L-10.2 -16.0Z" fill="#b5b0b0"/><path d="M0 0L-10.6 -15.8L-8.1 -17.2Z" fill="#bfbaba"/><path d="M0 0L-8.4 -17.0L-5.7 -18.1Z" fill="#cdc8c8"/><path d="M0 0L-6.1 -18.0L-3.3 -18.7Z" fill="#dad5d5"/><path d="M0 0L-3.7 -18.6L-0.9 -19.0Z" fill="#e4dfdf"/><path d="M0 0L-1.2 -19.0L1.6 -18.9Z" fill="#e8e3e3"/><path d="M0 0L1.2 -19.0L4.1 -18.6Z" fill="#e4dfdf"/><path d="M0 0L3.7 -18.6L6.5 -17.9Z" fill="#dad5d5"/><path d="M0 0L6.1 -18.0L8.7 -16.9Z" fill="#cdc8c8"/><path d="M0 0L8.4 -17.0L10.9 -15.6Z" fill="#bfbaba"/><path d="M0 0L10.6 -15.8L12.8 -14.0Z" fill="#b5b0b0"/><path d="M0 0L12.5 -14.3L14.5 -12.2Z" fill="#b2adad"/><path d="M0 0L14.3 -12.5L16.0 -10.2Z" fill="#b6b1b1"/><path d="M0 0L15.8 -10.6L17.2 -8.1Z" fill="#c1bcbc"/><path d="M0 0L17.0 -8.4L18.1 -5.7Z" fill="#d1cccc"/><path d="M0 0L18.0 -6.1L18.7 -3.3Z" fill="#e0dbdb"/><path d="M0 0L18.6 -3.7L19.0 -0.9Z" fill="#ebe6e6"/></g></g></g>
<g transform="translate(974.2 422.4)"><g clip-path="url(#poleclip)"><g filter="url(#blur06)" shape-rendering="crispEdges"><path d="M0 0L19.0 -1.2L18.9 1.6Z" fill="#f0ebeb"/><path d="M0 0L19.0 1.2L18.6 4.1Z" fill="#eae5e5"/><path d="M0 0L18.6 3.7L17.9 6.5Z" fill="#dbd6d6"/><path d="M0 0L18.0 6.1L16.9 8.7Z" fill="#c7c2c2"/><path d="M0 0L17.0 8.4L15.6 10.9Z" fill="#b2adad"/><path d="M0 0L15.8 10.6L14.0 12.8Z" fill="#a39e9e"/><path d="M0 0L14.3 12.5L12.2 14.5Z" fill="#9e9999"/><path d="M0 0L12.5 14.3L10.2 16.0Z" fill="#a19c9c"/><path d="M0 0L10.6 15.8L8.1 17.2Z" fill="#aaa5a5"/><path d="M0 0L8.4 17.0L5.7 18.1Z" fill="#b7b2b2"/><path d="M0 0L6.1 18.0L3.3 18.7Z" fill="#c3bebe"/><path d="M0 0L3.7 18.6L0.9 19.0Z" fill="#ccc7c7"/><path d="M0 0L1.2 19.0L-1.6 18.9Z" fill="#d0cbcb"/><path d="M0 0L-1.2 19.0L-4.1 18.6Z" fill="#ccc7c7"/><path d="M0 0L-3.7 18.6L-6.5 17.9Z" fill="#c3bebe"/><path d="M0 0L-6.1 18.0L-8.7 16.9Z" fill="#b7b2b2"/><path d="M0 0L-8.4 17.0L-10.9 15.6Z" fill="#aaa5a5"/><path d="M0 0L-10.6 15.8L-12.8 14.0Z" fill="#a19c9c"/><path d="M0 0L-12.5 14.3L-14.5 12.2Z" fill="#9e9999"/><path d="M0 0L-14.3 12.5L-16.0 10.2Z" fill="#a39e9e"/><path d="M0 0L-15.8 10.6L-17.2 8.1Z" fill="#b2adad"/><path d="M0 0L-17.0 8.4L-18.1 5.7Z" fill="#c7c2c2"/><path d="M0 0L-18.0 6.1L-18.7 3.3Z" fill="#dbd6d6"/><path d="M0 0L-18.6 3.7L-19.0 0.9Z" fill="#eae5e5"/><path d="M0 0L-19.0 1.2L-18.9 -1.6Z" fill="#f0ebeb"/><path d="M0 0L-19.0 -1.2L-18.6 -4.1Z" fill="#ebe6e6"/><path d="M0 0L-18.6 -3.7L-17.9 -6.5Z" fill="#e0dbdb"/><path d="M0 0L-18.0 -6.1L-16.9 -8.7Z" fill="#d1cccc"/><path d="M0 0L-17.0 -8.4L-15.6 -10.9Z" fill="#c1bcbc"/><path d="M0 0L-15.8 -10.6L-14.0 -12.8Z" fill="#b6b1b1"/><path d="M0 0L-14.3 -12.5L-12.2 -14.5Z" fill="#b2adad"/><path d="M0 0L-12.5 -14.3L-10.2 -16.0Z" fill="#b5b0b0"/><path d="M0 0L-10.6 -15.8L-8.1 -17.2Z" fill="#bfbaba"/><path d="M0 0L-8.4 -17.0L-5.7 -18.1Z" fill="#cdc8c8"/><path d="M0 0L-6.1 -18.0L-3.3 -18.7Z" fill="#dad5d5"/><path d="M0 0L-3.7 -18.6L-0.9 -19.0Z" fill="#e4dfdf"/><path d="M0 0L-1.2 -19.0L1.6 -18.9Z" fill="#e8e3e3"/><path d="M0 0L1.2 -19.0L4.1 -18.6Z" fill="#e4dfdf"/><path d="M0 0L3.7 -18.6L6.5 -17.9Z" fill="#dad5d5"/><path d="M0 0L6.1 -18.0L8.7 -16.9Z" fill="#cdc8c8"/><path d="M0 0L8.4 -17.0L10.9 -15.6Z" fill="#bfbaba"/><path d="M0 0L10.6 -15.8L12.8 -14.0Z" fill="#b5b0b0"/><path d="M0 0L12.5 -14.3L14.5 -12.2Z" fill="#b2adad"/><path d="M0 0L14.3 -12.5L16.0 -10.2Z" fill="#b6b1b1"/><path d="M0 0L15.8 -10.6L17.2 -8.1Z" fill="#c1bcbc"/><path d="M0 0L17.0 -8.4L18.1 -5.7Z" fill="#d1cccc"/><path d="M0 0L18.0 -6.1L18.7 -3.3Z" fill="#e0dbdb"/><path d="M0 0L18.6 -3.7L19.0 -0.9Z" fill="#ebe6e6"/></g></g></g>
<g transform="translate(974.2 492.3)"><g clip-path="url(#poleclip)"><g filter="url(#blur06)" shape-rendering="crispEdges"><path d="M0 0L19.0 -1.2L18.9 1.6Z" fill="#f0ebeb"/><path d="M0 0L19.0 1.2L18.6 4.1Z" fill="#eae5e5"/><path d="M0 0L18.6 3.7L17.9 6.5Z" fill="#dbd6d6"/><path d="M0 0L18.0 6.1L16.9 8.7Z" fill="#c7c2c2"/><path d="M0 0L17.0 8.4L15.6 10.9Z" fill="#b2adad"/><path d="M0 0L15.8 10.6L14.0 12.8Z" fill="#a39e9e"/><path d="M0 0L14.3 12.5L12.2 14.5Z" fill="#9e9999"/><path d="M0 0L12.5 14.3L10.2 16.0Z" fill="#a19c9c"/><path d="M0 0L10.6 15.8L8.1 17.2Z" fill="#aaa5a5"/><path d="M0 0L8.4 17.0L5.7 18.1Z" fill="#b7b2b2"/><path d="M0 0L6.1 18.0L3.3 18.7Z" fill="#c3bebe"/><path d="M0 0L3.7 18.6L0.9 19.0Z" fill="#ccc7c7"/><path d="M0 0L1.2 19.0L-1.6 18.9Z" fill="#d0cbcb"/><path d="M0 0L-1.2 19.0L-4.1 18.6Z" fill="#ccc7c7"/><path d="M0 0L-3.7 18.6L-6.5 17.9Z" fill="#c3bebe"/><path d="M0 0L-6.1 18.0L-8.7 16.9Z" fill="#b7b2b2"/><path d="M0 0L-8.4 17.0L-10.9 15.6Z" fill="#aaa5a5"/><path d="M0 0L-10.6 15.8L-12.8 14.0Z" fill="#a19c9c"/><path d="M0 0L-12.5 14.3L-14.5 12.2Z" fill="#9e9999"/><path d="M0 0L-14.3 12.5L-16.0 10.2Z" fill="#a39e9e"/><path d="M0 0L-15.8 10.6L-17.2 8.1Z" fill="#b2adad"/><path d="M0 0L-17.0 8.4L-18.1 5.7Z" fill="#c7c2c2"/><path d="M0 0L-18.0 6.1L-18.7 3.3Z" fill="#dbd6d6"/><path d="M0 0L-18.6 3.7L-19.0 0.9Z" fill="#eae5e5"/><path d="M0 0L-19.0 1.2L-18.9 -1.6Z" fill="#f0ebeb"/><path d="M0 0L-19.0 -1.2L-18.6 -4.1Z" fill="#ebe6e6"/><path d="M0 0L-18.6 -3.7L-17.9 -6.5Z" fill="#e0dbdb"/><path d="M0 0L-18.0 -6.1L-16.9 -8.7Z" fill="#d1cccc"/><path d="M0 0L-17.0 -8.4L-15.6 -10.9Z" fill="#c1bcbc"/><path d="M0 0L-15.8 -10.6L-14.0 -12.8Z" fill="#b6b1b1"/><path d="M0 0L-14.3 -12.5L-12.2 -14.5Z" fill="#b2adad"/><path d="M0 0L-12.5 -14.3L-10.2 -16.0Z" fill="#b5b0b0"/><path d="M0 0L-10.6 -15.8L-8.1 -17.2Z" fill="#bfbaba"/><path d="M0 0L-8.4 -17.0L-5.7 -18.1Z" fill="#cdc8c8"/><path d="M0 0L-6.1 -18.0L-3.3 -18.7Z" fill="#dad5d5"/><path d="M0 0L-3.7 -18.6L-0.9 -19.0Z" fill="#e4dfdf"/><path d="M0 0L-1.2 -19.0L1.6 -18.9Z" fill="#e8e3e3"/><path d="M0 0L1.2 -19.0L4.1 -18.6Z" fill="#e4dfdf"/><path d="M0 0L3.7 -18.6L6.5 -17.9Z" fill="#dad5d5"/><path d="M0 0L6.1 -18.0L8.7 -16.9Z" fill="#cdc8c8"/><path d="M0 0L8.4 -17.0L10.9 -15.6Z" fill="#bfbaba"/><path d="M0 0L10.6 -15.8L12.8 -14.0Z" fill="#b5b0b0"/><path d="M0 0L12.5 -14.3L14.5 -12.2Z" fill="#b2adad"/><path d="M0 0L14.3 -12.5L16.0 -10.2Z" fill="#b6b1b1"/><path d="M0 0L15.8 -10.6L17.2 -8.1Z" fill="#c1bcbc"/><path d="M0 0L17.0 -8.4L18.1 -5.7Z" fill="#d1cccc"/><path d="M0 0L18.0 -6.1L18.7 -3.3Z" fill="#e0dbdb"/><path d="M0 0L18.6 -3.7L19.0 -0.9Z" fill="#ebe6e6"/></g></g></g>
<g transform="translate(974.2 561)"><g clip-path="url(#poleclip)"><g filter="url(#blur06)" shape-rendering="crispEdges"><path d="M0 0L19.0 -1.2L18.9 1.6Z" fill="#f0ebeb"/><path d="M0 0L19.0 1.2L18.6 4.1Z" fill="#eae5e5"/><path d="M0 0L18.6 3.7L17.9 6.5Z" fill="#dbd6d6"/><path d="M0 0L18.0 6.1L16.9 8.7Z" fill="#c7c2c2"/><path d="M0 0L17.0 8.4L15.6 10.9Z" fill="#b2adad"/><path d="M0 0L15.8 10.6L14.0 12.8Z" fill="#a39e9e"/><path d="M0 0L14.3 12.5L12.2 14.5Z" fill="#9e9999"/><path d="M0 0L12.5 14.3L10.2 16.0Z" fill="#a19c9c"/><path d="M0 0L10.6 15.8L8.1 17.2Z" fill="#aaa5a5"/><path d="M0 0L8.4 17.0L5.7 18.1Z" fill="#b7b2b2"/><path d="M0 0L6.1 18.0L3.3 18.7Z" fill="#c3bebe"/><path d="M0 0L3.7 18.6L0.9 19.0Z" fill="#ccc7c7"/><path d="M0 0L1.2 19.0L-1.6 18.9Z" fill="#d0cbcb"/><path d="M0 0L-1.2 19.0L-4.1 18.6Z" fill="#ccc7c7"/><path d="M0 0L-3.7 18.6L-6.5 17.9Z" fill="#c3bebe"/><path d="M0 0L-6.1 18.0L-8.7 16.9Z" fill="#b7b2b2"/><path d="M0 0L-8.4 17.0L-10.9 15.6Z" fill="#aaa5a5"/><path d="M0 0L-10.6 15.8L-12.8 14.0Z" fill="#a19c9c"/><path d="M0 0L-12.5 14.3L-14.5 12.2Z" fill="#9e9999"/><path d="M0 0L-14.3 12.5L-16.0 10.2Z" fill="#a39e9e"/><path d="M0 0L-15.8 10.6L-17.2 8.1Z" fill="#b2adad"/><path d="M0 0L-17.0 8.4L-18.1 5.7Z" fill="#c7c2c2"/><path d="M0 0L-18.0 6.1L-18.7 3.3Z" fill="#dbd6d6"/><path d="M0 0L-18.6 3.7L-19.0 0.9Z" fill="#eae5e5"/><path d="M0 0L-19.0 1.2L-18.9 -1.6Z" fill="#f0ebeb"/><path d="M0 0L-19.0 -1.2L-18.6 -4.1Z" fill="#ebe6e6"/><path d="M0 0L-18.6 -3.7L-17.9 -6.5Z" fill="#e0dbdb"/><path d="M0 0L-18.0 -6.1L-16.9 -8.7Z" fill="#d1cccc"/><path d="M0 0L-17.0 -8.4L-15.6 -10.9Z" fill="#c1bcbc"/><path d="M0 0L-15.8 -10.6L-14.0 -12.8Z" fill="#b6b1b1"/><path d="M0 0L-14.3 -12.5L-12.2 -14.5Z" fill="#b2adad"/><path d="M0 0L-12.5 -14.3L-10.2 -16.0Z" fill="#b5b0b0"/><path d="M0 0L-10.6 -15.8L-8.1 -17.2Z" fill="#bfbaba"/><path d="M0 0L-8.4 -17.0L-5.7 -18.1Z" fill="#cdc8c8"/><path d="M0 0L-6.1 -18.0L-3.3 -18.7Z" fill="#dad5d5"/><path d="M0 0L-3.7 -18.6L-0.9 -19.0Z" fill="#e4dfdf"/><path d="M0 0L-1.2 -19.0L1.6 -18.9Z" fill="#e8e3e3"/><path d="M0 0L1.2 -19.0L4.1 -18.6Z" fill="#e4dfdf"/><path d="M0 0L3.7 -18.6L6.5 -17.9Z" fill="#dad5d5"/><path d="M0 0L6.1 -18.0L8.7 -16.9Z" fill="#cdc8c8"/><path d="M0 0L8.4 -17.0L10.9 -15.6Z" fill="#bfbaba"/><path d="M0 0L10.6 -15.8L12.8 -14.0Z" fill="#b5b0b0"/><path d="M0 0L12.5 -14.3L14.5 -12.2Z" fill="#b2adad"/><path d="M0 0L14.3 -12.5L16.0 -10.2Z" fill="#b6b1b1"/><path d="M0 0L15.8 -10.6L17.2 -8.1Z" fill="#c1bcbc"/><path d="M0 0L17.0 -8.4L18.1 -5.7Z" fill="#d1cccc"/><path d="M0 0L18.0 -6.1L18.7 -3.3Z" fill="#e0dbdb"/><path d="M0 0L18.6 -3.7L19.0 -0.9Z" fill="#ebe6e6"/></g></g></g>
<g transform="translate(974.2 629.7)"><g clip-path="url(#poleclip)"><g filter="url(#blur06)" shape-rendering="crispEdges"><path d="M0 0L19.0 -1.2L18.9 1.6Z" fill="#f0ebeb"/><path d="M0 0L19.0 1.2L18.6 4.1Z" fill="#eae5e5"/><path d="M0 0L18.6 3.7L17.9 6.5Z" fill="#dbd6d6"/><path d="M0 0L18.0 6.1L16.9 8.7Z" fill="#c7c2c2"/><path d="M0 0L17.0 8.4L15.6 10.9Z" fill="#b2adad"/><path d="M0 0L15.8 10.6L14.0 12.8Z" fill="#a39e9e"/><path d="M0 0L14.3 12.5L12.2 14.5Z" fill="#9e9999"/><path d="M0 0L12.5 14.3L10.2 16.0Z" fill="#a19c9c"/><path d="M0 0L10.6 15.8L8.1 17.2Z" fill="#aaa5a5"/><path d="M0 0L8.4 17.0L5.7 18.1Z" fill="#b7b2b2"/><path d="M0 0L6.1 18.0L3.3 18.7Z" fill="#c3bebe"/><path d="M0 0L3.7 18.6L0.9 19.0Z" fill="#ccc7c7"/><path d="M0 0L1.2 19.0L-1.6 18.9Z" fill="#d0cbcb"/><path d="M0 0L-1.2 19.0L-4.1 18.6Z" fill="#ccc7c7"/><path d="M0 0L-3.7 18.6L-6.5 17.9Z" fill="#c3bebe"/><path d="M0 0L-6.1 18.0L-8.7 16.9Z" fill="#b7b2b2"/><path d="M0 0L-8.4 17.0L-10.9 15.6Z" fill="#aaa5a5"/><path d="M0 0L-10.6 15.8L-12.8 14.0Z" fill="#a19c9c"/><path d="M0 0L-12.5 14.3L-14.5 12.2Z" fill="#9e9999"/><path d="M0 0L-14.3 12.5L-16.0 10.2Z" fill="#a39e9e"/><path d="M0 0L-15.8 10.6L-17.2 8.1Z" fill="#b2adad"/><path d="M0 0L-17.0 8.4L-18.1 5.7Z" fill="#c7c2c2"/><path d="M0 0L-18.0 6.1L-18.7 3.3Z" fill="#dbd6d6"/><path d="M0 0L-18.6 3.7L-19.0 0.9Z" fill="#eae5e5"/><path d="M0 0L-19.0 1.2L-18.9 -1.6Z" fill="#f0ebeb"/><path d="M0 0L-19.0 -1.2L-18.6 -4.1Z" fill="#ebe6e6"/><path d="M0 0L-18.6 -3.7L-17.9 -6.5Z" fill="#e0dbdb"/><path d="M0 0L-18.0 -6.1L-16.9 -8.7Z" fill="#d1cccc"/><path d="M0 0L-17.0 -8.4L-15.6 -10.9Z" fill="#c1bcbc"/><path d="M0 0L-15.8 -10.6L-14.0 -12.8Z" fill="#b6b1b1"/><path d="M0 0L-14.3 -12.5L-12.2 -14.5Z" fill="#b2adad"/><path d="M0 0L-12.5 -14.3L-10.2 -16.0Z" fill="#b5b0b0"/><path d="M0 0L-10.6 -15.8L-8.1 -17.2Z" fill="#bfbaba"/><path d="M0 0L-8.4 -17.0L-5.7 -18.1Z" fill="#cdc8c8"/><path d="M0 0L-6.1 -18.0L-3.3 -18.7Z" fill="#dad5d5"/><path d="M0 0L-3.7 -18.6L-0.9 -19.0Z" fill="#e4dfdf"/><path d="M0 0L-1.2 -19.0L1.6 -18.9Z" fill="#e8e3e3"/><path d="M0 0L1.2 -19.0L4.1 -18.6Z" fill="#e4dfdf"/><path d="M0 0L3.7 -18.6L6.5 -17.9Z" fill="#dad5d5"/><path d="M0 0L6.1 -18.0L8.7 -16.9Z" fill="#cdc8c8"/><path d="M0 0L8.4 -17.0L10.9 -15.6Z" fill="#bfbaba"/><path d="M0 0L10.6 -15.8L12.8 -14.0Z" fill="#b5b0b0"/><path d="M0 0L12.5 -14.3L14.5 -12.2Z" fill="#b2adad"/><path d="M0 0L14.3 -12.5L16.0 -10.2Z" fill="#b6b1b1"/><path d="M0 0L15.8 -10.6L17.2 -8.1Z" fill="#c1bcbc"/><path d="M0 0L17.0 -8.4L18.1 -5.7Z" fill="#d1cccc"/><path d="M0 0L18.0 -6.1L18.7 -3.3Z" fill="#e0dbdb"/><path d="M0 0L18.6 -3.7L19.0 -0.9Z" fill="#ebe6e6"/></g></g></g>

<!-- humbucker.svg -->
<rect x="1625.3" y="238.7" width="85.4" height="60" rx="12" fill="#a8a09c" stroke="#111" stroke-width="1.8"/>
<rect x="1625.3" y="614.7" width="85.4" height="60" rx="12" fill="#a8a09c" stroke="#111" stroke-width="1.8"/>
<circle cx="1668" cy="260" r="5.6" fill="#fff" stroke="#111" stroke-width="1.6"/>
<circle cx="1668" cy="651.2" r="5.6" fill="#fff" stroke="#111" stroke-width="1.6"/>
<rect x="1564.5" y="277.3" width="207.5" height="354.7" rx="10" fill="url(#hbcover)"/>
<g transform="translate(1714.1 321.3)"><circle r="15.6" fill="url(#screw)" stroke="#111" stroke-width="1.8"/><path d="M10 -11.5 L-10 11.5" stroke="#111" stroke-width="2.6"/></g>
<g transform="translate(1714.1 375.5)"><circle r="15.6" fill="url(#screw)" stroke="#111" stroke-width="1.8"/><path d="M10 -11.5 L-10 11.5" stroke="#111" stroke-width="2.6"/></g>
<g transform="translate(1714.1 428.8)"><circle r="15.6" fill="url(#screw)" stroke="#111" stroke-width="1.8"/><path d="M10 -11.5 L-10 11.5" stroke="#111" stroke-width="2.6"/></g>
<g transform="translate(1714.1 482.7)"><circle r="15.6" fill="url(#screw)" stroke="#111" stroke-width="1.8"/><path d="M10 -11.5 L-10 11.5" stroke="#111" stroke-width="2.6"/></g>
<g transform="translate(1714.1 536)"><circle r="15.6" fill="url(#screw)" stroke="#111" stroke-width="1.8"/><path d="M10 -11.5 L-10 11.5" stroke="#111" stroke-width="2.6"/></g>
<g transform="translate(1714.1 589.3)"><circle r="15.6" fill="url(#screw)" stroke="#111" stroke-width="1.8"/><path d="M10 -11.5 L-10 11.5" stroke="#111" stroke-width="2.6"/></g>

<!-- blobs.svg -->
<ellipse cx="788.3" cy="972.0" rx="14.0" ry="13.2" fill="url(#blob)"/>
<ellipse cx="790.4" cy="1012.5" rx="13.8" ry="13.5" fill="url(#blob)"/>
<ellipse cx="974.0" cy="972.0" rx="14.0" ry="13.2" fill="url(#blob)"/>
<ellipse cx="974.0" cy="1018.0" rx="14.0" ry="13.2" fill="url(#blob)"/>
<ellipse cx="1064.0" cy="972.5" rx="12.5" ry="13.5" fill="url(#blob)"/>
<ellipse cx="1127.0" cy="976.5" rx="12.5" ry="13.5" fill="url(#blob)"/>
<ellipse cx="1050.6" cy="1058.4" rx="17.4" ry="18.0" fill="url(#blob)"/>
<ellipse cx="1127.0" cy="1058.0" rx="12.5" ry="13.5" fill="url(#blob)"/>
<ellipse cx="1296.0" cy="989.2" rx="16.8" ry="19.6" fill="url(#blob)"/>
<ellipse cx="1359.2" cy="989.2" rx="16.8" ry="19.6" fill="url(#blob)"/>
<ellipse cx="1422.3" cy="989.2" rx="16.8" ry="19.6" fill="url(#blob)"/>
<ellipse cx="1550.5" cy="993.5" rx="16.8" ry="19.6" fill="url(#blob)"/>
<ellipse cx="1390.5" cy="1047.8" rx="17.2" ry="19.4" fill="url(#blob)"/>
<ellipse cx="1454.8" cy="1047.8" rx="17.2" ry="19.4" fill="url(#blob)"/>
<ellipse cx="1518.5" cy="1047.8" rx="17.2" ry="19.4" fill="url(#blob)"/>
<ellipse cx="1582.0" cy="1045.5" rx="17.2" ry="19.2" fill="url(#blob)"/>

<!-- jack.svg -->
<path d="M214.9 1057.4 L216.7 1063.1 A57.2 57.2 0 0 1 233.8 1074.0 L242.7 1071.6 A64.2 64.2 0 0 1 242.7 1167.8 L233.8 1165.4 A57.2 57.2 0 0 1 216.7 1176.3 L214.9 1182.0 A64.2 64.2 0 1 1 214.9 1057.4 Z" fill="url(#orangeR)"/>
<path d="M136.5 1095 Q150 1088 158 1086 Q170 1080 182 1078 L178 1092 Q160 1105 160 1128 Q162 1150 182 1166 L196 1170 Q175 1172 160 1158 Q148 1140 140 1120 Q134 1110 136.5 1095 Z" fill="url(#steel2)"/>
<path d="M140 1098 Q152 1100 152 1125 Q156 1146 176 1164" stroke="#f4f4f4" stroke-width="7" fill="none" opacity=".85"/>
<path d="M148 1092 Q158 1100 156 1124" stroke="#6a6a6a" stroke-width="4" fill="none" opacity=".8"/>
<ellipse cx="198.8" cy="1123.7" rx="48" ry="46" fill="url(#steel3)"/>
<g clip-path="url(#ringclip)"><g filter="url(#blur3)"><path d="M200 1078 A48 46 0 0 1 243 1105 L234 1110 A38 37 0 0 0 200 1087 Z" fill="#3c3c3c" opacity=".75"/>
<path d="M243 1105 A48 46 0 0 1 245 1140 L236 1136 A38 37 0 0 0 234 1110 Z" fill="#f6f6f6" opacity=".85"/>
<path d="M245 1140 A48 46 0 0 1 222 1164 L216 1155 A38 37 0 0 0 236 1136 Z" fill="#4a4a4a" opacity=".7"/>
<path d="M222 1164 A48 46 0 0 1 185 1168.5 L188 1159 A38 37 0 0 0 216 1155 Z" fill="#f2f2f2" opacity=".9"/>
<path d="M185 1168.5 A48 46 0 0 1 153 1140 L163 1136 A38 37 0 0 0 188 1159 Z" fill="#5a5a5a" opacity=".65"/>
<path d="M153 1140 A48 46 0 0 1 156 1102 L165 1108 A38 37 0 0 0 163 1136 Z" fill="#f0f0f0" opacity=".8"/>
</g></g>
<circle cx="199.7" cy="1123.2" r="37.3" fill="#9e9e9e"/>
<path d="M222 1099 A32 32 0 0 1 224 1148" stroke="#f4f4f4" stroke-width="1" fill="none"/>
<circle cx="199.7" cy="1123.2" r="32.4" fill="#fefefc"/>
<g transform="translate(171 1071) rotate(-27)"><rect x="-29" y="3" width="12" height="14" rx="2" fill="url(#plug)" stroke="#222" stroke-width=".8"/><rect x="14" y="-4" width="8" height="9" rx="2" fill="#9a9a9a" stroke="#333" stroke-width=".6"/><path d="M-27 -4 L19 -4 L19 6 L-19 6 L-27 3 Z" fill="#3a3a3c"/><path d="M-18.5 1 L18.5 1 L18.5 10 L14.5 14 L14.5 45 Q14.5 53 6.5 53 L-6.5 53 Q-14.5 53 -14.5 45 L-14.5 14 L-18.5 10 Z" fill="url(#plug)"/><path d="M-13 31.5 L13 31.5 M-12.5 43 L12.5 43" stroke="#f4f4f4" stroke-width="1.3"/></g>
<rect x="251" y="1107" width="8" height="6" fill="#777" stroke="#222" stroke-width=".8"/>
<rect x="251" y="1135" width="8" height="6" fill="#777" stroke="#222" stroke-width=".8"/>
<rect x="154" y="1169" width="9" height="6" fill="#999" stroke="#222" stroke-width=".8" transform="rotate(-20 158 1172)"/>
<rect x="181" y="1183" width="7" height="6" fill="#777" stroke="#222" stroke-width=".8" transform="rotate(-20 184 1186)"/>
<ellipse cx="256.5" cy="1124" rx="11.6" ry="12.8" fill="url(#blob)"/>
<ellipse cx="170.8" cy="1182" rx="12.6" ry="12.4" fill="url(#blob)"/>

<!-- arrows.svg -->
<path d="M1357.0 1238.5 L1167.5 1082.8" stroke="#111" stroke-width="2" fill="none"/><polygon points="1149.0,1067.6 1174.2,1074.7 1160.9,1090.9" fill="#111"/>
<path d="M1812.0 1143.3 L1716.1 1091.8" stroke="#111" stroke-width="3" fill="none"/><polygon points="1695.0,1080.4 1721.3,1082.1 1710.9,1101.5" fill="#111"/>

<!-- text.svg -->
<rect x="633" y="33" width="3" height="207" fill="#1a1a1a"/>
<text x="690" y="87.5" font-size="46" class="b" textLength="232" lengthAdjust="spacingAndGlyphs">Telecaster</text>
<text x="924.5" y="76.8" font-size="33" class="b" textLength="24.5" lengthAdjust="spacingAndGlyphs">®</text>
<text x="962" y="87.5" font-size="46" class="b" textLength="634" lengthAdjust="spacingAndGlyphs">&amp; Humbucker wiring (series)</text>
<text x="690" y="129" font-size="30.5" textLength="124" lengthAdjust="spacingAndGlyphs">1 Volume</text>
<text x="690" y="168.5" font-size="30.5" textLength="86" lengthAdjust="spacingAndGlyphs">1 Tone</text>
<text x="690" y="208.5" font-size="30.5" textLength="277.5" lengthAdjust="spacingAndGlyphs">4-Way Blade Switch</text>
<text font-size="26" textLength="76" lengthAdjust="spacingAndGlyphs" transform="translate(564.4 560.2) rotate(90)">Yellow</text>
<text font-size="18.8" textLength="201" lengthAdjust="spacingAndGlyphs" transform="translate(747 548.6) rotate(90)">Ground from Baseplate</text>
<text font-size="28" textLength="58" lengthAdjust="spacingAndGlyphs" transform="translate(658 985) rotate(90)">Tone</text>
<text font-size="29" textLength="90" lengthAdjust="spacingAndGlyphs" transform="translate(1085 972) rotate(90)">Volume</text>
<text x="1361.4" y="1265" font-size="40" textLength="345.6" lengthAdjust="spacingAndGlyphs">Ground from Bridge</text>
<text x="1780" y="1178" font-size="26" textLength="129.6" lengthAdjust="spacingAndGlyphs">Metal Plate</text>
<text x="650.5" y="1342.6" font-size="26.5" textLength="138.7" lengthAdjust="spacingAndGlyphs" style="fill:#c0272d">! Important !</text>
<text x="796.8" y="1342.6" font-size="26.5" textLength="553.2" lengthAdjust="spacingAndGlyphs">Make sure all metal parts are properly grounded</text>
<rect x="650" y="1346.3" width="147" height="1.6" fill="#c0272d"/><rect x="797" y="1346.3" width="553" height="1.6" fill="#1a1a1a"/>
<text x="654" y="1784" font-size="26" class="serif ft" textLength="410" lengthAdjust="spacingAndGlyphs">Nick Silver Pickups © Copyright 2022</text>
<text x="1090" y="1784" font-size="26" class="serif ft" textLength="250" lengthAdjust="spacingAndGlyphs">www.silverpickups.com</text>

<!-- logo.svg -->
<g fill="none" stroke="#141414" stroke-width="1.8" stroke-linejoin="miter" stroke-linecap="round">
<path d="M386.3 175.4 L385.9 175.6 L385.5 175.9 L385.0 176.2 L384.5 176.5 L384.0 176.8 L383.4 177.2 L382.8 177.6 L382.1 178.0 L381.4 178.5 L380.7 178.9 L380.0 179.4 L379.2 179.8 L378.5 180.3 L377.7 180.8 L376.9 181.3 L376.1 181.8 L375.3 182.2 L374.4 182.7 L373.6 183.2 L372.8 183.6 L371.9 184.1 L371.1 184.5 L370.3 184.9 L369.5 185.3 L368.8 185.6 L368.1 185.9 L367.4 186.3 L366.7 186.6 L366.0 186.9 L365.3 187.2 L364.5 187.6 L363.8 187.9 L363.0 188.2 L362.3 188.5 L361.5 188.8 L360.8 189.1 L360.0 189.4 L359.2 189.7 L358.5 190.0 L357.7 190.3 L356.9 190.6 L356.1 190.9 L355.3 191.2 L354.5 191.5 L353.7 191.8 L352.9 192.1 L352.1 192.3 L351.3 192.6 L350.5 192.9 L349.6 193.1 L348.8 193.4 L348.0 193.6 L347.3 193.8 L346.5 194.0 L345.8 194.2 L345.0 194.4 L344.3 194.6 L343.5 194.8 L342.8 195.0 L342.1 195.2 L341.3 195.4 L340.6 195.6 L339.8 195.8 L339.1 196.0 L338.3 196.1 L337.5 196.3 L336.8 196.5 L336.0 196.6 L335.2 196.8 L334.4 197.0 L333.6 197.1 L332.8 197.3 L332.0 197.4 L331.2 197.6 L330.3 197.7 L329.5 197.9 L328.7 198.0 L327.8 198.1 L326.9 198.3 L326.0 198.4 L325.1 198.5 L324.2 198.7 L323.3 198.8 L322.6 198.9 L321.9 199.0 L321.1 199.1 L320.4 199.2 L319.6 199.3 L318.9 199.3 L318.1 199.4 L317.3 199.5 L316.6 199.6 L315.8 199.7 L315.0 199.7 L314.2 199.8 L313.3 199.9 L312.5 200.0 L311.7 200.0 L310.9 200.1 L310.0 200.2 L309.2 200.3 L308.4 200.3 L307.5 200.4 L306.7 200.4 L305.9 200.5 L305.0 200.6 L304.2 200.6 L303.3 200.7 L302.5 200.7 L301.7 200.8 L300.8 200.8 L300.0 200.9 L299.1 200.9 L298.3 201.0 L297.5 201.0 L296.7 201.0 L295.8 201.1 L295.0 201.1 L294.2 201.2 L293.4 201.2 L292.6 201.2 L291.8 201.2 L291.1 201.3 L290.3 201.3 L289.5 201.3 L288.6 201.3 L287.8 201.4 L286.9 201.4 L286.1 201.4 L285.2 201.4 L284.4 201.4 L283.5 201.4 L282.7 201.4 L281.8 201.4 L281.0 201.4 L280.1 201.4 L279.3 201.4 L278.5 201.4 L277.6 201.4 L276.8 201.4 L276.0 201.4 L275.2 201.3 L274.3 201.3 L273.5 201.3 L272.7 201.3 L271.9 201.2 L271.1 201.2 L270.3 201.2 L269.5 201.2 L268.7 201.1 L267.9 201.1 L267.2 201.1 L266.4 201.0 L265.6 201.0 L264.9 201.0 L264.1 200.9 L263.4 200.9 L262.7 200.8 L261.9 200.8 L261.2 200.7 L260.5 200.7 L259.6 200.6 L258.7 200.6 L257.8 200.5 L256.9 200.4 L256.0 200.4 L255.2 200.3 L254.3 200.2 L253.5 200.1 L252.6 200.0 L251.8 199.9 L251.0 199.9 L250.2 199.8 L249.4 199.7 L248.6 199.6 L247.9 199.5 L247.1 199.4 L246.3 199.3 L245.6 199.1 L244.8 199.0 L244.0 198.9 L243.3 198.8 L242.5 198.7 L241.8 198.6 L241.0 198.5 L240.3 198.4 L239.5 198.2 L238.8 198.1 L238.0 198.0 L237.2 197.9 L236.3 197.7 L235.5 197.6 L234.7 197.5 L233.8 197.3 L233.0 197.2 L232.2 197.0 L231.4 196.9 L230.6 196.7 L229.8 196.6 L229.0 196.4 L228.3 196.3 L227.5 196.1 L226.7 196.0 L225.9 195.8 L225.1 195.6 L224.3 195.5 L223.6 195.3 L222.8 195.1 L222.0 194.9 L221.5 197.3 L214.9 193.2 L212.5 192.6 L211.9 195.0 L206.2 190.9 L203.8 190.2 L203.1 192.5 L196.9 187.7 L194.6 186.7 L193.6 188.9 L188.5 183.9 L186.2 182.7 L185.1 184.9 L179.9 179.1 L178.0 177.8 L176.6 179.8 L175.9 176.3 L175.9 176.3 L175.2 175.7 L174.5 175.2 L173.8 174.7 L173.1 174.1 L172.5 173.6 L171.8 173.1 L171.2 172.5 L170.6 171.9 L170.0 171.4 L169.4 170.8 L168.8 170.2 L168.3 169.7 L167.7 169.1 L167.2 168.5 L166.7 167.9 L166.2 167.4 L165.8 166.8 L165.3 166.2 L164.9 165.6 L164.5 165.0 L164.0 164.2 L163.6 163.5 L163.2 162.7 L162.8 161.8 L162.5 161.0 L162.2 160.2 L161.9 159.4 L161.7 158.5 L161.5 157.7 L161.3 156.9 L161.1 156.0 L160.9 155.2 L160.8 154.4 L160.6 153.6 L160.5 152.8 L160.4 152.1 L160.3 151.3 L160.2 150.6 L160.1 149.6 L160.0 148.7 L160.0 147.8 L160.0 147.0 L160.0 146.2 L160.0 145.3 L160.1 144.5 L160.2 143.7 L160.4 142.9 L160.5 142.1 L160.6 141.3 L160.8 140.4 L161.0 139.5 L161.2 138.8 L161.3 138.0 L161.5 137.2 L161.7 136.4 L161.9 135.6 L162.2 134.8 L162.4 134.0 L162.7 133.2 L162.9 132.3 L163.2 131.5 L163.5 130.7 L163.8 130.0 L164.1 129.2 L164.4 128.4 L164.7 127.7 L165.0 127.0 L165.4 126.2 L165.7 125.5 L166.1 124.7 L166.5 124.0 L166.9 123.3 L167.4 122.7 L167.8 122.0 L168.2 121.3 L168.7 120.7 L169.2 120.0 L169.7 119.4 L170.2 118.7 L170.7 118.1 L171.3 117.4 L169.0 115.5 L175.1 113.2 L176.3 112.0 L174.2 109.8 L180.3 108.5 L182.2 107.1 L180.5 104.6 L187.0 104.2 L188.5 103.4 L187.0 100.7 L193.5 100.8 L195.0 100.0 L193.5 97.2 L200.2 97.3 L201.7 96.5 L200.3 93.7 L207.0 94.0 L208.5 93.3 L207.2 90.4 L213.6 91.1 L215.1 90.5 L213.9 87.5 L220.6 88.5 L222.1 88.0 L221.2 84.9 L227.7 86.5 L229.4 86.1 L228.6 82.9 L235.2 84.7 L236.8 84.3 L236.0 81.1 L242.8 83.0 L244.3 82.6 L243.6 79.3 L250.1 81.5 L252.0 81.2 L251.4 77.8 L252.0 81.2"/>
<path d="M252.0 81.2 L251.4 77.6 L257.8 80.3 L260.1 80.0 L259.6 76.3 L265.8 79.2 L268.3 78.9 L267.8 75.1 L274.2 78.1 L276.6 77.8 L276.0 73.8 L282.1 77.0 L284.5 76.6 L283.9 72.6 L291.0 75.7 L292.7 75.5 L292.1 71.3 L299.2 74.6 L301.6 74.3 L301.1 69.9 L308.1 73.5 L310.5 73.2 L310.0 68.7 L316.9 72.5 L319.4 72.2 L318.8 67.6 L325.8 71.4 L328.2 71.1 L327.6 66.3 L335.5 70.0 L337.1 69.8 L336.4 64.9 L344.4 68.8 L346.8 68.4 L346.1 63.4 L354.1 67.5 L356.6 67.1 L355.9 61.9 L364.0 66.2 L365.6 66.0 L365.0 60.6 L371.2 65.4" stroke-width="2.3"/>
<path d="M376.5 61.8 L395.8 71.1 L390.5 70.7 Z" fill="#141414" stroke-width=".6"/>
<path d="M381.0 64.4 L394.5 69.1 L391.8 70.0 Z" fill="#141414" stroke-width=".6"/>
<path d="M395.4 63.7 L408.2 70.4 L404.2 70.2 Z" fill="#141414" stroke-width=".6"/>
<path d="M399.0 66.0 L407.6 69.1 L405.3 69.6 Z" fill="#141414" stroke-width=".6"/>
<path d="M410.0 66.4 L422.1 72.4 L419.5 72.7 Z" fill="#141414" stroke-width=".6"/>
<path d="M371.1 65.3 L381.0 68.5 L377.4 69.4 Z" fill="#141414" stroke-width=".6"/>
<path d="M377.4 69.1 L386.4 70.0 L395.8 71.1"/>
<path d="M208.7 100.4 C212.7 99.3 223.0 95.9 232.5 93.7 C242.0 91.5 254.5 88.9 265.5 87.1 C276.5 85.3 287.5 84.2 298.5 83.0 C309.5 81.8 320.5 80.7 331.5 79.7 C342.5 78.7 354.3 77.8 364.5 77.2 C374.7 76.6 388.0 76.3 392.7 76.1"/>
<path d="M294.2 114.5 C292.0 114.1 286.2 112.5 281.0 112.2 C275.8 111.9 270.0 112.3 263.0 112.7 C256.0 113.1 245.8 113.9 239.0 114.8 C232.2 115.7 227.3 116.5 222.0 118.0 C216.7 119.5 211.9 121.3 207.0 123.5 C202.1 125.7 196.1 128.1 192.5 131.0 C188.9 133.9 187.0 137.9 185.7 141.2 C184.4 144.5 184.2 147.3 184.9 150.6 C185.6 153.9 187.0 157.3 190.0 160.8 C193.0 164.3 196.6 168.0 202.7 171.8 C208.8 175.6 216.9 180.3 226.5 183.7 C236.1 187.1 249.2 190.1 260.5 192.2 C271.9 194.3 284.8 195.3 294.6 196.1 C304.4 196.9 313.1 197.1 319.2 196.9 C325.3 196.7 325.3 196.3 331.5 194.9 C337.7 193.5 348.6 190.9 356.3 188.3 C364.0 185.7 372.7 181.7 377.7 179.5 C382.7 177.3 384.9 176.1 386.3 175.4"/>
<path d="M183.2 114.0 L194.2 107.6 L201.9 120.0 Z"/>
<path d="M170.4 129.3 L176.4 121.7 L190.0 131.0 Z"/>
<path d="M164.5 142.1 L167.0 135.3 L184.0 141.2 Z"/>
<path d="M163.6 155.7 L164.0 148.9 L183.2 154.0 Z"/>
<path d="M167.9 165.9 L165.7 160.8 L184.0 161.6 Z"/>
<path d="M175.5 174.4 L171.7 170.1 L187.4 170.1 Z"/>
<path d="M184.0 181.2 L179.8 177.8 L194.2 177.8 Z"/>
<path d="M208.7 101.3 L233.7 112.7 L235.4 108.1 L228.6 98.3 L242.7 94.9"/>
<path d="M215.0 104.0 L233.6 112.4 L234.8 107.0 L228.2 98.0 L242.0 94.4 L263.6 111.8 L257.0 91.1 L277.4 88.1 L291.8 99.8 L294.8 87.5 L314.0 86.3 L327.2 104.0 L330.8 98.0 L332.0 86.0"/>
<path d="M313.2 87.0 L327.1 104.1 L331.2 87.0 L358.6 83.2 L360.4 98.9 L373.0 81.2 L375.0 80.7 L388.3 94.0 L389.4 86.1 L384.7 77.6"/>
<path d="M294.2 114.5 C292.5 114.6 289.2 114.7 284.0 114.9 C278.8 115.1 268.5 115.0 263.0 115.5 C257.5 116.0 254.5 116.6 251.0 117.9 C247.5 119.2 244.3 121.5 242.0 123.2 C239.7 124.9 238.3 125.9 237.3 128.0 C236.4 130.1 236.5 134.5 236.3 135.8"/>
<path d="M236.0 136.1 L256.4 136.7" stroke-width="2.2"/>
<path d="M248.6 136.1 L254.0 129.8 L255.2 131.0 L251.6 136.4"/>
<path d="M256.4 136.7 C257.5 135.6 260.9 132.3 263.0 130.4 C265.1 128.5 267.0 126.4 269.0 125.1 C271.0 123.8 271.0 123.2 275.0 122.7 C279.0 122.3 288.0 122.6 293.0 122.4 C298.0 122.1 301.0 121.9 305.0 121.4 C309.0 120.9 313.7 120.6 317.0 119.6 C320.3 118.6 323.1 116.9 324.8 115.4 C326.5 113.9 327.2 112.2 327.3 110.6 C327.4 109.0 327.1 107.3 325.4 105.8 C323.7 104.2 320.4 102.6 317.0 101.3 C313.6 100.0 308.9 99.0 305.0 98.1 C301.1 97.2 295.5 96.4 293.6 96.1"/>
<path d="M293.6 97.5 C295.5 97.9 301.1 98.9 305.0 99.9 C308.9 100.9 313.2 102.4 317.0 103.5 C320.8 104.6 325.4 105.4 327.8 106.7 C330.2 108.0 331.3 109.4 331.5 111.2 C331.8 112.9 330.2 115.8 329.3 117.2 C328.4 118.6 326.5 119.3 326.0 119.7"/>
<path d="M279.8 112.4 C278.9 111.9 275.7 110.8 274.4 109.4 C273.0 108.0 271.8 105.8 271.7 104.0 C271.5 102.2 272.6 98.3 273.5 98.6 C274.3 98.9 275.2 103.8 276.8 105.8 C278.3 107.8 279.9 109.1 282.8 110.6 C285.7 112.0 292.3 113.8 294.2 114.5"/>
<path d="M326.2 119.6 L363.1 122.7 L351.0 110.9"/>
<path d="M369.3 91.9 C369.8 92.4 371.2 93.9 372.0 95.0 C372.8 96.1 374.4 97.7 374.3 98.6 C374.1 99.5 373.0 99.8 371.1 100.4 C369.2 101.0 365.6 101.6 363.0 102.2 C360.5 102.8 357.7 103.1 355.8 104.0 C353.9 104.9 352.2 106.1 351.8 107.6 C351.3 109.1 351.5 111.1 353.1 113.0 C354.7 115.0 358.1 117.4 361.2 119.3 C364.4 121.3 368.3 123.1 372.0 124.7 C375.8 126.4 380.6 128.0 383.7 129.2 C386.9 130.4 388.7 131.1 390.9 131.9 C393.2 132.7 394.4 133.6 397.2 134.2 C400.1 134.8 404.4 135.7 408.0 135.5 C411.6 135.4 415.4 134.3 418.8 133.3 C422.3 132.2 427.1 129.9 428.7 129.2"/>
<path d="M369.3 91.9 C369.2 92.7 369.9 95.4 368.9 96.8 C367.8 98.2 364.9 99.4 363.0 100.4 C361.1 101.5 359.0 101.9 357.6 103.1 C356.3 104.3 354.9 106.0 354.9 107.6 C354.9 109.3 357.2 112.1 357.6 113.0"/>
<path d="M428.7 129.2 L433.2 126.1 L440.4 128.3 L458.4 142.3"/>
<path d="M428.7 129.2 L438.6 140.9"/>
<path d="M434.1 128.3 L448.5 140.0"/>
<path d="M395.4 100.4 C396.3 101.5 400.0 105.2 400.8 107.2 C401.6 109.1 401.0 110.8 400.1 112.1 C399.2 113.4 396.0 113.6 395.4 115.0 C394.8 116.4 395.4 119.2 396.8 120.7 C398.1 122.2 400.1 123.6 403.5 124.0 C406.9 124.4 413.0 123.4 417.0 123.1 C421.1 122.8 425.1 121.5 427.8 122.0 C430.5 122.5 432.3 125.2 433.2 125.9"/>
<path d="M395.4 100.4 C396.5 101.4 399.3 104.2 401.7 106.3 C404.1 108.4 406.8 111.1 409.8 113.0 C412.8 114.9 416.3 117.1 419.7 117.5 C423.2 118.0 427.6 117.2 430.5 115.7 C433.4 114.2 435.9 111.8 437.3 108.5 C438.6 105.2 438.4 98.0 438.6 95.9"/>
<path d="M438.6 95.9 L442.2 113.0 L445.8 95.0 L448.5 109.4 L452.1 90.1 L453.0 106.7 L457.5 93.7" stroke-width="1.1"/>
<path d="M421.5 72.1 L427.8 70.7 L430.5 74.3 L440.4 74.9 L453.0 79.0 L464.7 86.0 L462.0 90.5 L457.5 93.7"/>
<path d="M402.2 86.0 C401.5 86.6 398.9 88.1 398.1 89.6 C397.3 91.1 396.6 93.2 397.2 95.0 C397.8 96.8 399.2 99.0 401.7 100.4 C404.3 101.8 408.8 103.3 412.5 103.3 C416.3 103.3 421.2 101.3 424.2 100.6 C427.2 99.9 429.5 99.5 430.5 99.2"/>
<path d="M402.2 87.8 C402.4 88.9 402.1 92.3 403.5 94.1 C404.9 95.9 408.0 98.0 410.7 98.6 C413.4 99.2 417.6 98.3 419.7 97.7 C421.8 97.1 423.3 96.0 423.5 95.0 C423.6 94.0 422.3 92.5 420.6 91.9 C419.0 91.3 415.7 90.9 413.6 91.4 C411.5 91.9 409.7 94.4 408.0 94.8 C406.3 95.3 404.3 94.2 403.5 94.1"/>
<ellipse cx="435.0" cy="81.1" rx="7.4" ry="3.8" transform="rotate(-4 435.0 81.1)"/>
<ellipse cx="435.0" cy="80.8" rx="2.6" ry="1.6" fill="#141414"/>
<path d="M411.6 81.1 C412.0 80.2 412.7 76.7 414.1 75.7 C415.5 74.6 420.0 74.0 420.2 74.5 C420.3 75.0 415.7 78.1 414.8 78.8 Z"/>
</g>
<g class="serif" text-rendering="geometricPrecision" style="font-family:'Liberation Serif',serif">
<text x="200.5" y="168.8" font-size="35.5" textLength="160" lengthAdjust="spacingAndGlyphs" class="serif" style="fill:#141414;stroke:#141414;stroke-width:.5"><tspan font-size="50">N</tspan>ICK</text>
<text x="385.5" y="168.8" font-size="35.5" textLength="225" lengthAdjust="spacingAndGlyphs" class="serif" style="fill:#141414;stroke:#141414;stroke-width:.5"><tspan font-size="50">S</tspan>ILVER</text>
<text x="387" y="200" font-size="24.4" textLength="224" lengthAdjust="spacing" class="serif" style="fill:#141414;stroke:#141414;stroke-width:.5">PICKUPS</text>
</g>

<!-- legend.svg -->
<rect x="287.5" y="1372" width="737" height="382" fill="none" stroke="#1a1a1a" stroke-width="2.2"/>
<rect x="1064" y="1372" width="649" height="382" fill="none" stroke="#1a1a1a" stroke-width="2.2"/>
<ellipse cx="337.3" cy="1432" rx="18" ry="17.5" fill="url(#blob)" transform="rotate(-20 337 1432)"/>
<rect x="333.2" y="1467" width="7.6" height="24" fill="#1a1a1a"/><rect x="320" y="1490" width="35" height="8.7" fill="#1a1a1a"/><rect x="325" y="1501.4" width="24.5" height="7.6" fill="#1a1a1a"/><rect x="330" y="1512" width="14.6" height="8.4" fill="#1a1a1a"/>
<text x="364.4" y="1438.7" font-size="27" textLength="495.8" lengthAdjust="spacingAndGlyphs">= Solder Joint, location for ground (earth)</text>
<text x="364.4" y="1498.4" font-size="27" textLength="336.6" lengthAdjust="spacingAndGlyphs">=Ground connection (earth)</text>
<text x="321.8" y="1558.4" font-size="27" textLength="198.4" lengthAdjust="spacingAndGlyphs">Suggested Pots:</text>
<text x="528.1" y="1558.4" font-size="27" class="b" textLength="134.5" lengthAdjust="spacingAndGlyphs">CTS 500k</text>
<text x="321.8" y="1605" font-size="27" textLength="227.2" lengthAdjust="spacingAndGlyphs">Suggested Switch:</text>
<text x="556.6" y="1605" font-size="27" class="b" textLength="260" lengthAdjust="spacingAndGlyphs">4-Way Oak Grigsby</text>
<text x="321.8" y="1652" font-size="27" textLength="279" lengthAdjust="spacingAndGlyphs">Suggested Capacitor: .</text>
<text x="601.1" y="1652" font-size="27" class="b" textLength="86.3" lengthAdjust="spacingAndGlyphs">022uF</text>
<text x="321.8" y="1699" font-size="27" textLength="201.4" lengthAdjust="spacingAndGlyphs">Suggested Jack:</text>
<text x="532" y="1699" font-size="27" class="b" textLength="238.3" lengthAdjust="spacingAndGlyphs">Switchcraft Mono</text>
<text x="1094.3" y="1447.4" font-size="31" class="b" textLength="325" lengthAdjust="spacingAndGlyphs">4-Way Switch Settings</text>
<text x="1094.3" y="1528" font-size="30" textLength="465.2" lengthAdjust="spacingAndGlyphs">Position 1: Bridge &amp; Neck in Series</text>
<text x="1094.3" y="1568" font-size="30" textLength="239.4" lengthAdjust="spacingAndGlyphs">Position 2: Bridge</text>
<text x="1094.3" y="1607.8" font-size="30" textLength="483.4" lengthAdjust="spacingAndGlyphs">Position 3: Bridge &amp; Neck in Parallel</text>
<text x="1094.3" y="1647.7" font-size="30" textLength="218.2" lengthAdjust="spacingAndGlyphs">Position 4: Neck</text>

</svg>
</body></html>
